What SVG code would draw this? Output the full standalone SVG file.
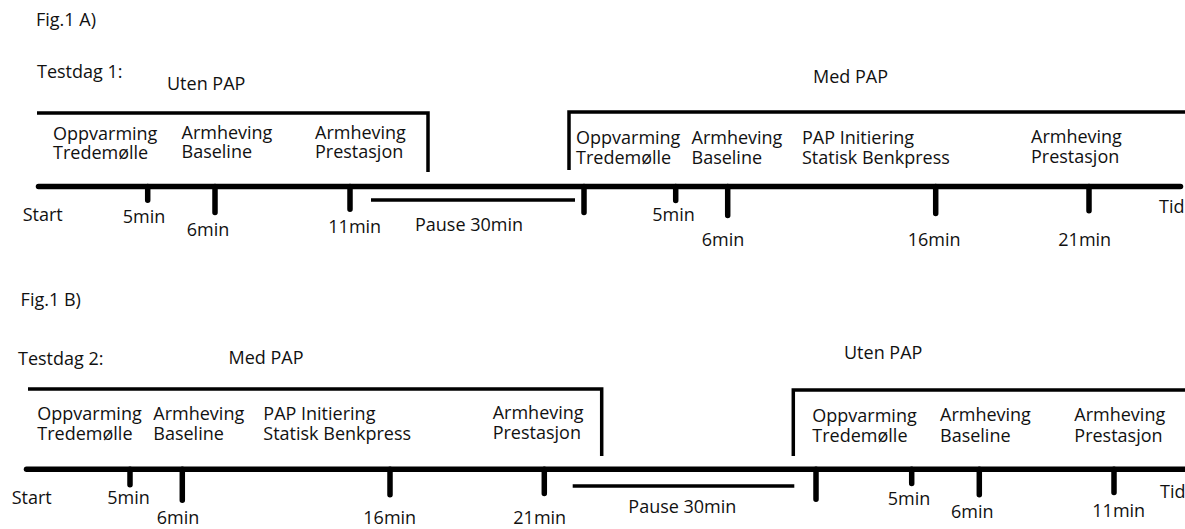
<svg xmlns="http://www.w3.org/2000/svg" width="1185" height="529" viewBox="0 0 1185 529">
<style>
text{font-family:"Open Sans","Liberation Sans",sans-serif;font-size:18px;fill:#111}
.br{fill:none;stroke:#000;stroke-width:3.5}
.ax{fill:none;stroke:#000;stroke-width:5.5;stroke-linecap:round}
.tk{fill:none;stroke:#000;stroke-width:5.5;stroke-linecap:round}
.ps{fill:none;stroke:#000;stroke-width:3.5}
</style>
<rect width="1185" height="529" fill="#fff"/>
<g id="panelA-titles">
<text x="36" y="26">Fig.1 A)</text>
<text x="37" y="78">Testdag 1:</text>
<text x="167" y="90">Uten PAP</text>
<text x="813" y="83">Med PAP</text>
</g>
<g id="A-phases-1">
<text x="53" y="140">Oppvarming<tspan x="53" y="159">Tredemølle</tspan></text>
<text x="181.5" y="139">Armheving<tspan x="181.5" y="158">Baseline</tspan></text>
<text x="315" y="139">Armheving<tspan x="315" y="158">Prestasjon</tspan></text>
</g>
<g id="A-phases-2">
<text x="576" y="144">Oppvarming<tspan x="576" y="164">Tredemølle</tspan></text>
<text x="691.5" y="144">Armheving<tspan x="691.5" y="164">Baseline</tspan></text>
<text x="802" y="144">PAP Initiering<tspan x="802" y="164">Statisk Benkpress</tspan></text>
<text x="1031" y="143">Armheving<tspan x="1031" y="163">Prestasjon</tspan></text>
</g>
<g id="A-times">
<text x="22.7" y="220.7">Start</text>
<text x="122.7" y="222.7">5min</text>
<text x="186.7" y="236">6min</text>
<text x="328.3" y="233.3">11min</text>
<text x="415" y="230.7">Pause 30min</text>
<text x="652.3" y="220.7">5min</text>
<text x="701.7" y="246">6min</text>
<text x="907.7" y="246">16min</text>
<text x="1058.3" y="246">21min</text>
<text x="1159" y="212.7">Tid</text>
</g>
<g id="panelB-titles">
<text x="20.6" y="306">Fig.1 B)</text>
<text x="18" y="365">Testdag 2:</text>
<text x="228.5" y="364">Med PAP</text>
<text x="844" y="359">Uten PAP</text>
</g>
<g id="B-phases-1">
<text x="37.3" y="420">Oppvarming<tspan x="37.3" y="440">Tredemølle</tspan></text>
<text x="153.3" y="420">Armheving<tspan x="153.3" y="440">Baseline</tspan></text>
<text x="263.3" y="420">PAP Initiering<tspan x="263.3" y="440">Statisk Benkpress</tspan></text>
<text x="492.7" y="419">Armheving<tspan x="492.7" y="439">Prestasjon</tspan></text>
</g>
<g id="B-phases-2">
<text x="812.3" y="421.7">Oppvarming<tspan x="812.3" y="442">Tredemølle</tspan></text>
<text x="940" y="420.7">Armheving<tspan x="940" y="441.7">Baseline</tspan></text>
<text x="1074.3" y="420.7">Armheving<tspan x="1074.3" y="441.7">Prestasjon</tspan></text>
</g>
<g id="B-times">
<text x="11.7" y="504">Start</text>
<text x="107.3" y="504">5min</text>
<text x="156.7" y="524">6min</text>
<text x="363.3" y="524">16min</text>
<text x="513.3" y="524">21min</text>
<text x="628.3" y="513.3">Pause 30min</text>
<text x="887.7" y="505">5min</text>
<text x="951" y="518.3">6min</text>
<text x="1092.3" y="517.3">11min</text>
<text x="1160" y="498.3">Tid</text>
</g>
<g id="connectors">
<path class="br" d="M37 113H428V172"/>
<path class="br" d="M569 170V112H1185"/>
<path class="ax" d="M38.5 186.5H1180.5"/>
<path class="tk" d="M147.7 186.5V200.2M215 186.5V212.5M350 186.5V209.2M584 186.5V212.5M675.7 186.5V200.5M727.7 186.5V215.5M935.7 186.5V213.5M1089 186.5V210.8"/>
<path class="ps" d="M371 200H575"/>
<path class="br" d="M28 389H601.7V456"/>
<path class="br" d="M793.3 456V390H1185"/>
<path class="ax" d="M26.5 469.3H1190"/>
<path class="tk" d="M130 469.3V484.8M182.3 469.3V500.2M390 469.3V494.8M544.3 469.3V493.5M816 469.3V499.2M911.7 469.3V483.5M979.3 469.3V494.8M1114 469.3V492.5"/>
<path class="ps" d="M572.7 486H794.3"/>
</g>
</svg>
